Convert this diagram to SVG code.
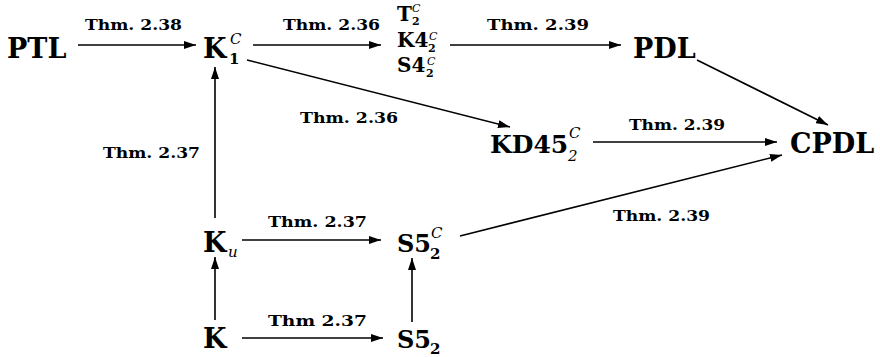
<svg xmlns="http://www.w3.org/2000/svg" width="880" height="357" viewBox="0 0 880 357">
<style>
.n{font-family:"DejaVu Serif","Liberation Serif",serif;font-weight:bold;font-size:27px;fill:#000}
.s{font-weight:bold;font-style:normal;font-size:15px}
.i{font-weight:normal;font-style:italic;font-size:15px}
.st{font-family:"DejaVu Serif","Liberation Serif",serif;font-weight:bold;font-size:20px;fill:#000}
.ss{font-size:11px}
.l{font-family:"DejaVu Serif","Liberation Serif",serif;font-weight:bold;font-size:15px;fill:#000}
.c{stroke:#000;stroke-width:1.6;fill:none;marker-end:url(#a)}
</style>
<defs>
<marker id="a" markerUnits="userSpaceOnUse" markerWidth="13" markerHeight="8" refX="12" refY="4" orient="auto">
<path d="M0,0 L12,4 L0,8 z" fill="#000"/>
</marker>
</defs>
<rect width="880" height="357" fill="#fff"/>
<g id="connectors">
<line class="c" x1="78" y1="45" x2="196" y2="45"/>
<line class="c" x1="253" y1="45" x2="381" y2="45"/>
<line class="c" x1="450" y1="45" x2="621" y2="45"/>
<line class="c" x1="697" y1="60" x2="828" y2="125"/>
<line class="c" x1="247" y1="60" x2="510" y2="127"/>
<line class="c" x1="593" y1="142" x2="777" y2="142"/>
<line class="c" x1="460" y1="236" x2="782" y2="155"/>
<line class="c" x1="215" y1="218" x2="215" y2="67"/>
<line class="c" x1="242" y1="240" x2="381" y2="240"/>
<line class="c" x1="215" y1="320" x2="215" y2="257"/>
<line class="c" x1="242" y1="338" x2="383" y2="338"/>
<line class="c" x1="412" y1="322" x2="412" y2="258"/>
<text class="l" x="85" y="30" textLength="97" lengthAdjust="spacingAndGlyphs">Thm. 2.38</text>
<text class="l" x="283" y="30" textLength="97" lengthAdjust="spacingAndGlyphs">Thm. 2.36</text>
<text class="l" x="487" y="30" textLength="102" lengthAdjust="spacingAndGlyphs">Thm. 2.39</text>
<text class="l" x="300" y="123" textLength="98" lengthAdjust="spacingAndGlyphs">Thm. 2.36</text>
<text class="l" x="103" y="158" textLength="97" lengthAdjust="spacingAndGlyphs">Thm. 2.37</text>
<text class="l" x="629" y="130" textLength="96" lengthAdjust="spacingAndGlyphs">Thm. 2.39</text>
<text class="l" x="613" y="221" textLength="97" lengthAdjust="spacingAndGlyphs">Thm. 2.39</text>
<text class="l" x="268" y="227" textLength="99" lengthAdjust="spacingAndGlyphs">Thm. 2.37</text>
<text class="l" x="268" y="326" textLength="99" lengthAdjust="spacingAndGlyphs">Thm  2.37</text>
</g>
<g id="PTL"><text class="n" x="7" y="58">PTL</text></g>
<g id="K1C"><text class="n" x="203" y="58">K<tspan class="i" x="230" y="44">C</tspan><tspan class="s" x="229" y="64">1</tspan></text></g>
<g id="T2C-K42C-S42C">
<text class="st" x="397" y="21">T<tspan class="i ss" x="412" y="12">C</tspan><tspan class="s ss" x="412" y="25">2</tspan><tspan x="397" y="47">K4</tspan><tspan class="i ss" x="429" y="40">C</tspan><tspan class="s ss" x="428" y="52">2</tspan><tspan x="397" y="72">S4</tspan><tspan class="i ss" x="427" y="65">C</tspan><tspan class="s ss" x="426" y="77">2</tspan></text>
</g>
<g id="PDL"><text class="n" x="633" y="58">PDL</text></g>
<g id="CPDL"><text class="n" x="790" y="153">CPDL</text></g>
<g id="KD45C"><text class="n" x="490" y="153"><tspan font-size="25">KD45</tspan><tspan class="i" x="569" y="138">C</tspan><tspan class="i" x="568" y="161">2</tspan></text></g>
<g id="Ku"><text class="n" x="203" y="252">K<tspan class="i" x="228" y="257">u</tspan></text></g>
<g id="S5C"><text class="n" x="397" y="252"><tspan font-size="24">S5</tspan><tspan class="i" x="431" y="238">C</tspan><tspan class="s" x="430" y="259">2</tspan></text></g>
<g id="K"><text class="n" x="203" y="348">K</text></g>
<g id="S52"><text class="n" x="397" y="348"><tspan font-size="24">S5</tspan><tspan class="s" x="430" y="354">2</tspan></text></g>
</svg>
